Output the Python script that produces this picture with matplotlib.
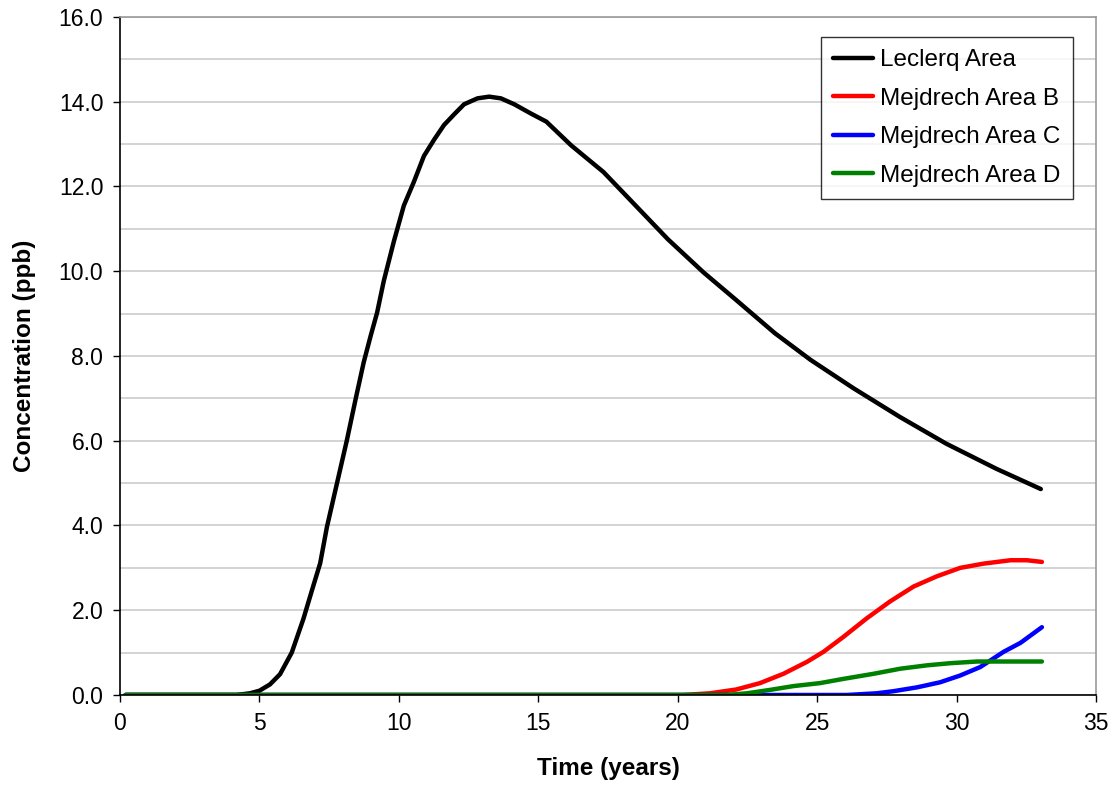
import matplotlib
matplotlib.use("Agg")
import matplotlib.pyplot as plt
from matplotlib.ticker import MultipleLocator, FormatStrFormatter

plt.rcParams['font.family'] = ['Liberation Sans', 'DejaVu Sans']

# Leclerq Area
t_leclerq = [0.2, 4.18, 4.66, 5.0, 5.38, 5.74, 6.16, 6.58, 6.88, 7.18, 7.42, 7.78, 8.14, 8.44,
             8.74, 9.0, 9.22, 9.46, 9.82, 10.18, 10.54, 10.90, 11.26, 11.62, 11.98, 12.34,
             12.82, 13.24, 13.66, 14.14, 14.74, 15.29, 16.18, 17.34, 18.49, 19.64,
             20.93, 22.08, 23.48, 24.76, 26.30, 27.97, 29.63, 31.42, 33.02]
c_leclerq = [0.0, 0.0, 0.04, 0.10, 0.25, 0.49, 1.0, 1.8, 2.46, 3.11, 3.96, 4.99, 6.02, 6.95,
             7.85, 8.5, 9.02, 9.77, 10.70, 11.55, 12.11, 12.72, 13.10, 13.45, 13.70, 13.94,
             14.08, 14.12, 14.08, 13.94, 13.72, 13.53, 12.97, 12.34, 11.55, 10.76,
             9.97, 9.33, 8.54, 7.91, 7.24, 6.56, 5.93, 5.34, 4.86]

# Mejdrech Area B
t_b = [0.2, 20.2, 21.16, 22.1, 22.95, 23.79, 24.63, 25.23, 25.94, 26.78, 27.62, 28.46,
       29.29, 30.13, 30.97, 31.93, 32.52, 33.06]
c_b = [0.0, 0.0, 0.04, 0.13, 0.28, 0.50, 0.78, 1.02, 1.37, 1.81, 2.21, 2.56,
       2.80, 3.00, 3.10, 3.18, 3.18, 3.14]

# Mejdrech Area C
t_c = [0.2, 26.06, 27.14, 27.74, 28.58, 29.41, 30.13, 30.85, 31.69, 32.29, 33.06]
c_c = [0.0, 0.0, 0.04, 0.09, 0.18, 0.30, 0.46, 0.66, 1.02, 1.23, 1.60]

# Mejdrech Area D
t_d = [0.2, 21.76, 22.48, 23.31, 24.15, 25.1, 25.94, 27.02, 27.98, 28.94, 29.77, 30.73, 33.06]
c_d = [0.0, 0.0, 0.04, 0.12, 0.21, 0.28, 0.38, 0.50, 0.62, 0.70, 0.75, 0.79, 0.79]

series_labels = ["Leclerq Area", "Mejdrech Area B", "Mejdrech Area C", "Mejdrech Area D"]
series_colors = ["#000000", "#ff0000", "#0000ff", "#008000"]

fig = plt.figure(figsize=(11.2, 7.94), dpi=100)
ax = fig.add_axes([0.1071, 0.1247, 0.8715, 0.8539])

for (t, c), lab, col in zip([(t_leclerq, c_leclerq), (t_b, c_b), (t_c, c_c), (t_d, c_d)],
                            series_labels, series_colors):
    ax.plot(t, c, color=col, lw=3.2, label=lab, solid_capstyle='round', solid_joinstyle='round')

ax.set_xlim(0, 35)
ax.set_ylim(0, 16)
ax.xaxis.set_major_locator(MultipleLocator(5))
ax.yaxis.set_major_locator(MultipleLocator(2))
ax.yaxis.set_minor_locator(MultipleLocator(1))
ax.yaxis.set_major_formatter(FormatStrFormatter('%.1f'))
ax.grid(axis='y', which='both', color='#cccccc', lw=1.2)
ax.set_axisbelow(True)
ax.tick_params(axis='both', which='major', labelsize=16.5, direction='out', length=5,
               width=1, color='#000000', pad=7)
ax.tick_params(axis='y', which='minor', length=0)

for s in ['left', 'bottom']:
    ax.spines[s].set_color('#000000')
    ax.spines[s].set_linewidth(1.2)
for s in ['right', 'top']:
    ax.spines[s].set_color('#999999')
    ax.spines[s].set_linewidth(1.2)

ax.set_xlabel("Time (years)", fontsize=17.5, fontweight='bold', labelpad=16)
ax.set_ylabel("Concentration (ppb)", fontsize=17.5, fontweight='bold', labelpad=16)

leg = ax.legend(loc='upper right', bbox_to_anchor=(0.9764, 0.9705), borderaxespad=0,
                fontsize=17.5, frameon=True, fancybox=False, edgecolor='#000000',
                handlelength=1.65, labelspacing=0.68, borderpad=0.5, handletextpad=0.3)
leg.get_frame().set_linewidth(1.0)

fig.savefig("out.png", dpi=100, facecolor='white')
